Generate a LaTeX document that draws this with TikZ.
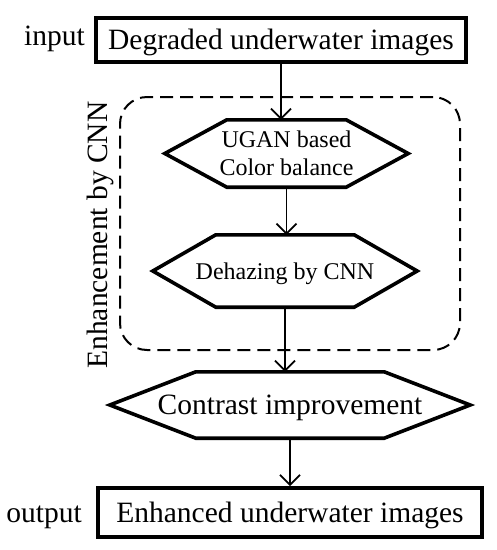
\documentclass[tikz,border=0pt]{standalone}
\usepackage{fontspec}
\setmainfont{Liberation Serif}
\usetikzlibrary{arrows.meta}

\begin{document}
\begin{tikzpicture}[x=1pt, y=-1pt, >={Straight Barb[length=10pt,width=20pt]},
  bigtxt/.style={font=\fontsize{29.5}{33}\selectfont},
  smalltxt/.style={font=\fontsize{24}{28}\selectfont},
  iobox/.style={draw, line width=3.8pt, inner sep=0pt, bigtxt, text height=19pt, text depth=0pt},
  hexnode/.style={inner sep=0pt, align=center},
  hexline/.style={line width=3.6pt},
  flow/.style={->, line width=1.8pt}]
\useasboundingbox (0,0) rectangle (497,550);
% input / output
\node[iobox, minimum width=370pt, minimum height=44pt] (src) at (281,40) {Degraded underwater images};
\node[anchor=base, bigtxt] (inlabel) at (54.5,45) {input};
\node[iobox, minimum width=384pt, minimum height=49pt] (out) at (290,512.5) {Enhanced underwater images};
\node[anchor=base, bigtxt] (outlabel) at (44,522) {output};
% CNN part
\node[draw, dash pattern=on 13pt off 7pt, line width=2pt, rounded corners=27pt,
  minimum width=340pt, minimum height=253pt] (encl) at (290,223.5) {};
\node[anchor=base, rotate=90, bigtxt] (encllabel) at (107,235) {Enhancement by CNN};
\node[hexnode, smalltxt, minimum width=243pt, minimum height=67pt] (ugan) at (286.5,153.5) {UGAN based\\Color balance};
\node[hexnode, smalltxt, minimum width=264pt, minimum height=72pt, text height=16pt, text depth=0pt] (dehaze) at (285,271) {Dehazing by CNN};
\node[hexnode, bigtxt, minimum width=360pt, minimum height=66pt, text height=19.5pt, text depth=0pt] (contrast) at (290,405) {Contrast improvement};
\foreach \n/\d in {ugan/62, dehaze/63, contrast/86}
  \draw[hexline] ([xshift=\d pt]\n.north west) -- ([xshift=-\d pt]\n.north east) -- (\n.east)
    -- ([xshift=-\d pt]\n.south east) -- ([xshift=\d pt]\n.south west) -- (\n.west) -- cycle;
% arrows
\draw[flow] (src.south) -- (src.south |- ugan.north);
\draw[flow] (ugan.south) -- (ugan.south |- dehaze.north);
\draw[flow] (dehaze.south) -- (dehaze.south |- contrast.north);
\draw[flow] (contrast.south) -- (contrast.south |- out.north);
\end{tikzpicture}
\end{document}
